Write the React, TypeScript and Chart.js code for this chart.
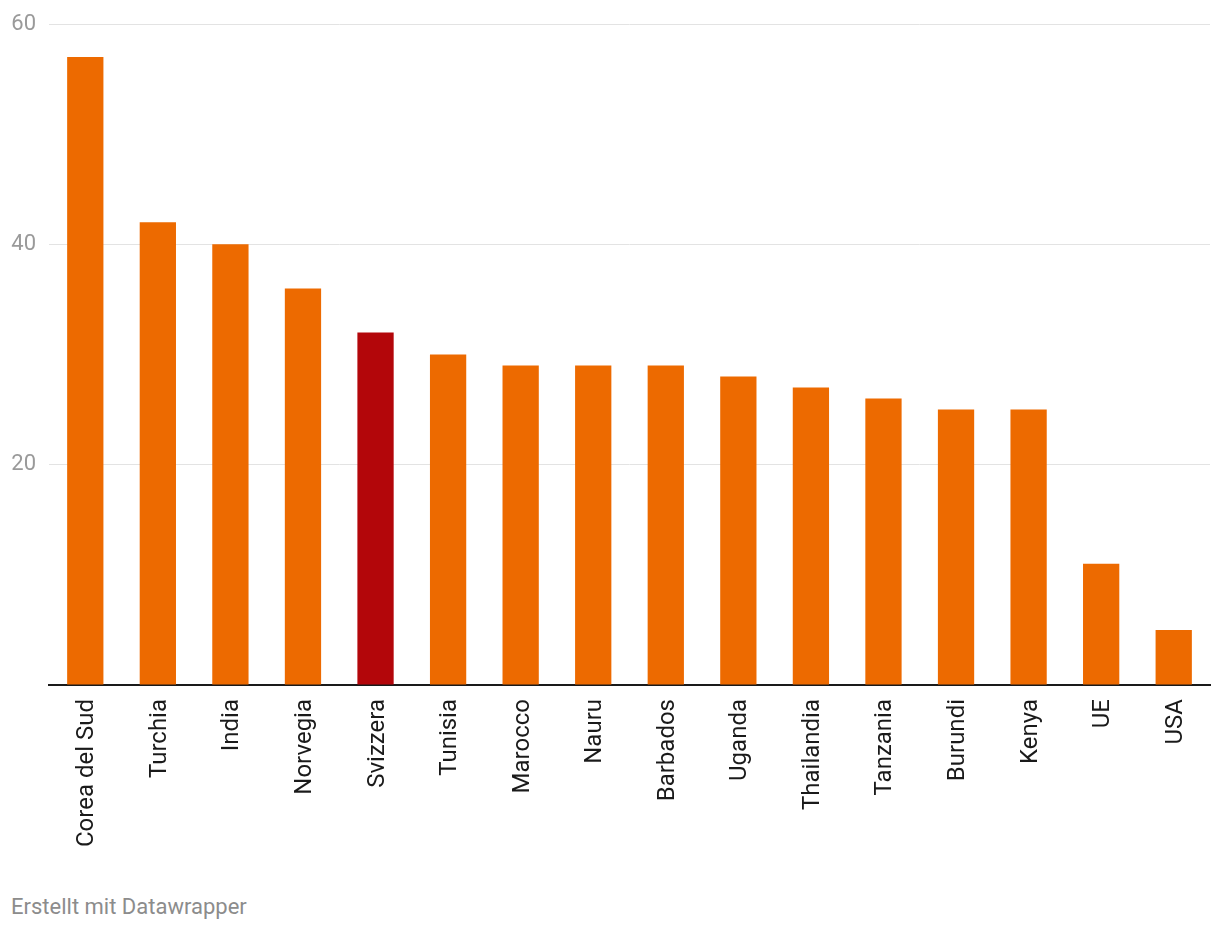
import React, { useEffect, useRef } from "react";
import { Chart, registerables } from "chart.js";

Chart.register(...registerables);

const categories = [
  "Corea del Sud", "Turchia", "India", "Norvegia", "Svizzera", "Tunisia", "Marocco", "Nauru",
  "Barbados", "Uganda", "Thailandia", "Tanzania", "Burundi", "Kenya", "UE", "USA",
];
const values = [57, 42, 40, 36, 32, 30, 29, 29, 29, 28, 27, 26, 25, 25, 11, 5];
const highlighted = "Svizzera";
const yTicks = [20, 40, 60];
const footer = "Erstellt mit Datawrapper";

const ORANGE = "#ed6a00";
const RED = "#b3060a";

export default function App() {
  const ref = useRef<HTMLCanvasElement | null>(null);

  useEffect(() => {
    if (!ref.current) return;
    const chart = new Chart(ref.current, {
      type: "bar",
      data: {
        labels: categories,
        datasets: [
          {
            data: values,
            backgroundColor: categories.map((c) => (c === highlighted ? RED : ORANGE)),
            categoryPercentage: 1,
            barPercentage: 0.5,
          },
        ],
      },
      options: {
        animation: false,
        responsive: false,
        maintainAspectRatio: false,
        layout: { padding: { top: 24, right: 10, left: 0, bottom: 0 } },
        plugins: { legend: { display: false }, tooltip: { enabled: false } },
        scales: {
          x: {
            grid: { display: false, drawTicks: false },
            border: { display: true, color: "#1a1a1a", width: 2 },
            ticks: {
              minRotation: 90,
              maxRotation: 90,
              autoSkip: false,
              padding: 14,
              labelOffset: 2,
              color: "#1a1a1a",
              font: { family: "Roboto", size: 24 },
            },
            afterFit: (scale: any) => {
              scale.height = 185;
            },
          },
          y: {
            min: 0,
            max: 60,
            border: { display: false },
            grid: { color: "#e3e3e3", lineWidth: 1, drawTicks: false },
            afterBuildTicks: (scale: any) => {
              scale.ticks = [0, ...yTicks].map((v) => ({ value: v }));
            },
            ticks: {
              padding: 13,
              color: "#9a9a9a",
              font: { family: "Roboto", size: 22 },
              callback: (v: any) => (v === 0 ? "" : String(v)),
            },
            afterFit: (scale: any) => {
              scale.width = 49;
              scale.paddingTop = 0;
              scale.paddingBottom = 0;
            },
          },
        },
      },
    });
    return () => chart.destroy();
  }, []);

  return (
    <div style={{ position: "absolute", left: 0, top: 0, width: 1220, height: 930, background: "#fff" }}>
      <canvas ref={ref} width={1220} height={870} style={{ display: "block" }} />
      <div
        style={{
          position: "absolute",
          left: 11,
          top: 893,
          fontFamily: "Roboto",
          fontSize: 22,
          color: "#8c8c8c",
          lineHeight: "28px",
        }}
      >
        {footer}
      </div>
    </div>
  );
}
